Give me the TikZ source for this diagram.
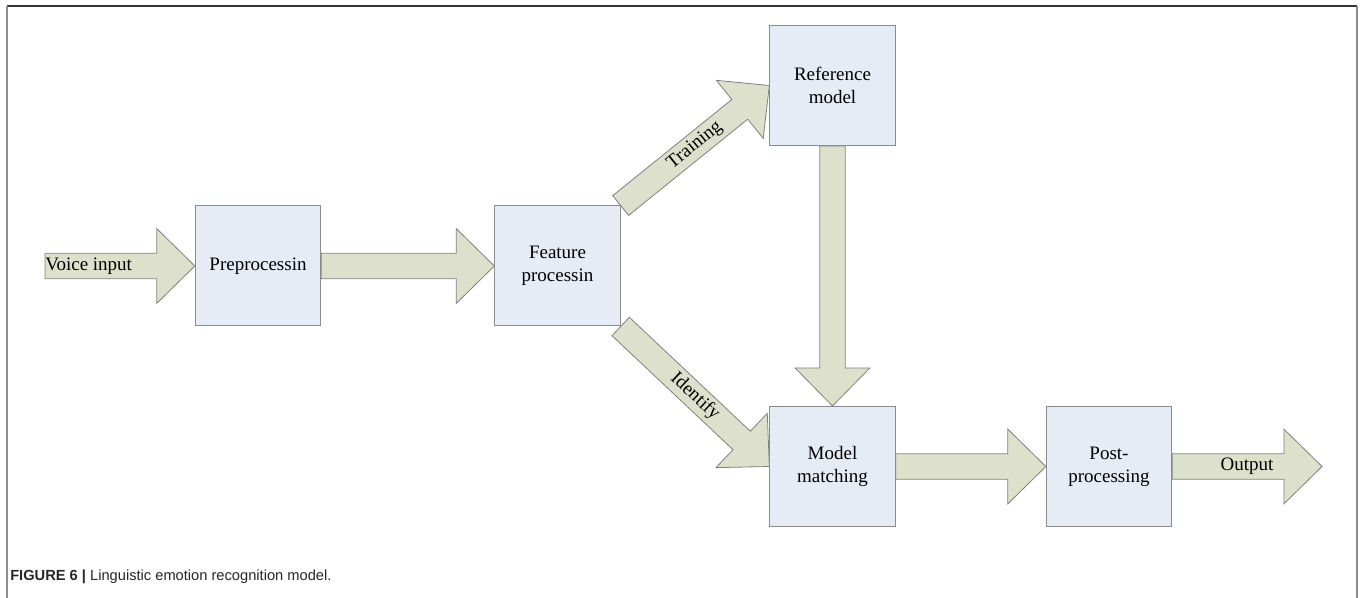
\documentclass[tikz,border=0pt]{standalone}
\usepackage{fontspec}
\setmainfont{Liberation Serif}
\newfontfamily\capfont{Liberation Sans}
\usetikzlibrary{calc,backgrounds}
\definecolor{boxfill}{HTML}{E6ECF6}
\definecolor{boxline}{HTML}{8C8C8C}
\definecolor{arrfill}{HTML}{DDE1CB}
\definecolor{arrline}{HTML}{808080}
\newcommand{\shaftw}{9.5pt}
\newcommand{\headw}{28pt}
\newcommand{\headl}{28.5pt}
%% fat arrow from #1 to #2 (tip at #2)
\newcommand{\fatarrow}[2]{%
  \draw[fatarrow] ($(#1)!\shaftw!90:(#2)$)
    -- ($(#2)!\headl!(#1)!\shaftw!90:(#2)$)
    -- ($(#2)!\headl!(#1)!\headw!90:(#2)$)
    -- (#2)
    -- ($(#2)!\headl!(#1)!\headw!-90:(#2)$)
    -- ($(#2)!\headl!(#1)!\shaftw!-90:(#2)$)
    -- ($(#1)!\shaftw!-90:(#2)$) -- cycle;}
\begin{document}
\begin{tikzpicture}[x=0.75pt,y=-0.75pt,
        box/.style={draw=boxline,fill=boxfill,line width=0.75pt,rectangle,minimum width=94pt,minimum height=90pt,align=center,font=\fontsize{14.25}{17.25}\selectfont},
        fatarrow/.style={draw=arrline,fill=arrfill,line width=0.6pt,line join=miter},
        lbl/.style={font=\fontsize{14.25}{17.25}\selectfont,inner sep=0pt}]
        \useasboundingbox (0,0) rectangle (1360,598);
        %% Frame
        \draw[line width=1.1pt,black!80] (7,6) -- (1357,6);
        \draw[line width=1.1pt,black!45] (7,6) -- (7,598) (1357,6) -- (1357,598);
        %% Blocks
        \node[box] (pre) at (258,266) {Preprocessin};
        \node[box] (feat) at (557.5,266) {Feature\\processin};
        \node[box] (ref) at (832.5,85.5) {Reference\\model};
        \node[box] (match) at (832.5,466.5) {Model\\matching};
        \node[box] (post) at (1109,466.5) {Post-\\processing};
        \coordinate (in) at (45,266);
        \coordinate (out) at (1322,466.5);
        %% Arrows
        \begin{pgfonlayer}{background}
        \fatarrow{in}{pre.west}
        \fatarrow{pre.east}{feat.west}
        \fatarrow{feat.north east}{ref.west}
        \fatarrow{feat.south east}{match.west}
        \fatarrow{ref.south}{match.north}
        \fatarrow{match.east}{post.west}
        \fatarrow{post.east}{out}
        \end{pgfonlayer}
        %% Labels
        \node[lbl,anchor=west] (vin) at (in) {Voice input};
        \path (feat.north east) -- (ref.west) node[lbl,midway,sloped] (train) {Training};
        \path (feat.south east) -- (match.west) node[lbl,midway,sloped] (ident) {Identify};
        \path (post.east) -- (out) node[lbl,midway] (outl) {Output};
        %% Caption
        \node[anchor=base west,inner sep=0pt,text=black!85,font=\capfont\fontsize{11}{13}\selectfont] (cap) at (10,580) {\textbf{FIGURE 6 |} Linguistic emotion recognition model.};
    \end{tikzpicture}
\end{document}
